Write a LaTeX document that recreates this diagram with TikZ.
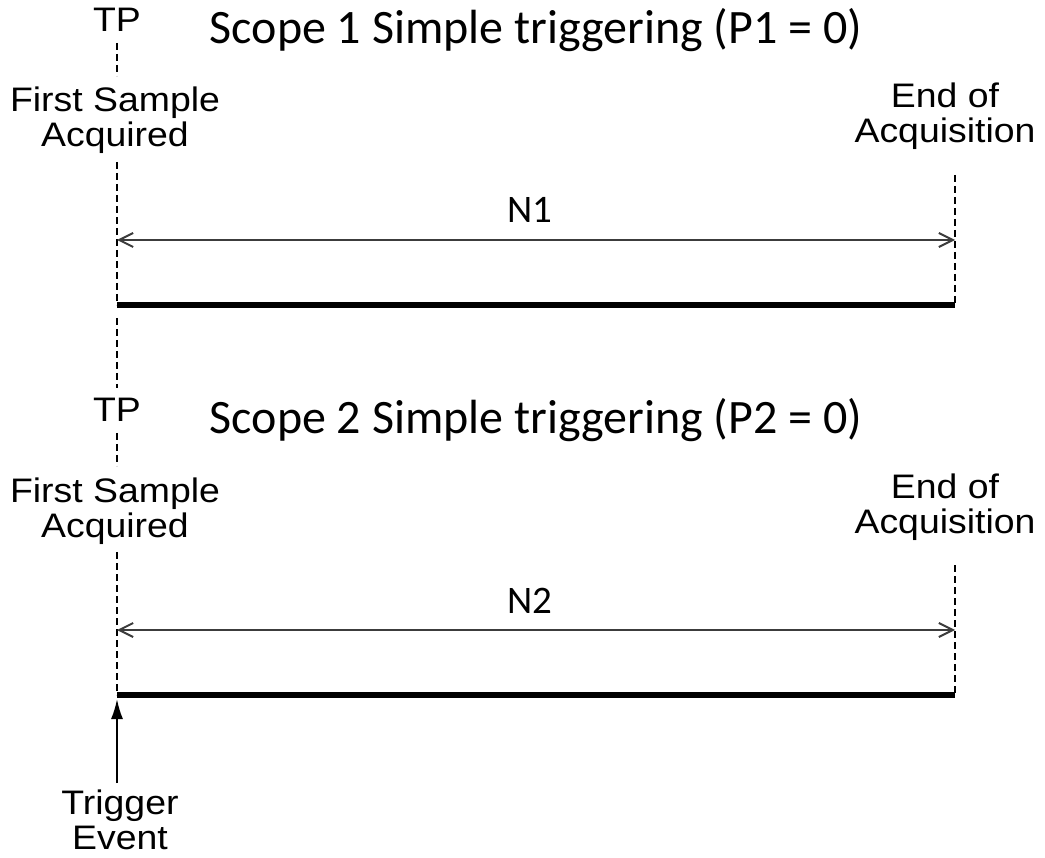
\documentclass[tikz,border=0pt]{standalone}
\usepackage{fontspec}
\setmainfont{Liberation Sans}[FakeStretch=1.1]
\newfontfamily\titlefont{Carlito}
\usetikzlibrary{arrows.meta}
\newcommand{\Unit}{1pt}
\newcommand{\XL}{117}
\newcommand{\XR}{955}
\newcommand{\Gap}{390}
\definecolor{ink}{HTML}{000000}
\definecolor{dimline}{HTML}{3C3C3C}

\tikzset{
  labeltext/.style={font=\fontsize{34}{35}\selectfont, inner sep=0pt, align=center, anchor=base},
  titletext/.style={font=\titlefont\fontsize{48}{50}\selectfont, inner sep=0pt, anchor=base},
  counttext/.style={font=\titlefont\fontsize{39}{42}\selectfont, inner sep=0pt, anchor=base},
  marker/.style={ink, line width=2pt, dash pattern=on 7pt off 4pt},
  dimension/.style={dimline, line width=2pt,
    {Straight Barb[length=14pt,width=14pt]}-{Straight Barb[length=14pt,width=14pt]}},
  record/.style={ink, line width=6pt},
  trigarrow/.style={ink, line width=2pt, -{Latex[length=20pt,width=12pt]}},
}

\begin{document}
\begin{tikzpicture}[x=\Unit,y=-\Unit, line join=miter]

  % ---- page: the reference's size, margins and all. ------------------------
  \useasboundingbox (0,0) rectangle (1045,858);

  % ---- the two scopes: same layout, one under the other. -------------------
  % (two-line labels sit on the baseline of their last line)
  \foreach \i/\dy in {1/0,2/\Gap} {
    \begin{scope}[shift={(0,\dy)}]
      \node[labeltext] (tp\i) at (\XL,32) {TP};
      \node[titletext] (title\i) at (536,44) {Scope \i\ Simple triggering (P\i{} = 0)};
      \node[labeltext] (first\i) at (115,147) {First Sample\\Acquired};
      \node[labeltext] (end\i) at (945,143) {End of\\Acquisition};
      \node[counttext] (n\i) at (530,223) {N\i};

      % Where the dashed markers start and stop.
      \coordinate (tpfoot\i) at (\XL,43);
      \coordinate (firsthead\i) at (\XL,76);
      \coordinate (lefttop\i) at (\XL,162);
      \coordinate (leftbar\i) at (\XL,305);
      \coordinate (righttop\i) at (\XR,175);
      \coordinate (rightbar\i) at (\XR,305);
      \coordinate (leftdim\i) at (\XL,240);
      \coordinate (rightdim\i) at (\XR,240);

      \draw[marker] (tpfoot\i) -- (firsthead\i);
      \draw[marker] (lefttop\i) -- (leftbar\i);
      \draw[marker] (righttop\i) -- (rightbar\i);
      \draw[dimension] (leftdim\i) -- (rightdim\i);
      \draw[record] (leftbar\i) -- (rightbar\i);
    \end{scope}
  }

  % ---- the marker runs on between the scopes. ------------------------------
  \coordinate (gaptop) at (\XL,318);
  \coordinate (gapfoot) at (\XL,388);
  \draw[marker] (gaptop) -- (gapfoot);

  % ---- trigger event under scope 2. -----------------------------------------
  \node[labeltext] (trigger) at (120,849) {Trigger\\Event};
  \coordinate (trigtail) at (\XL,783);
  \coordinate (trighit) at (\XL,699);
  \draw[trigarrow] (trigtail) -- (trighit);

\end{tikzpicture}
\end{document}
